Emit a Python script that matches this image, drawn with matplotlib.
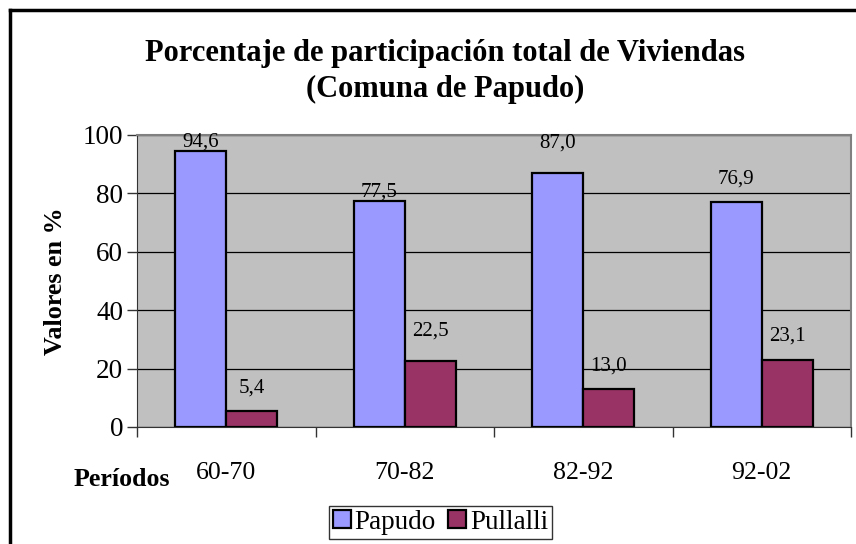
import matplotlib
matplotlib.use("Agg")
import matplotlib.pyplot as plt
import numpy as np
from matplotlib.lines import Line2D

categories = ["60-70", "70-82", "82-92", "92-02"]
papudo = [94.6, 77.5, 87.0, 76.9]
pullalli = [5.4, 22.5, 13.0, 23.1]
papudo_labels = ["94,6", "77,5", "87,0", "76,9"]
pullalli_labels = ["5,4", "22,5", "13,0", "23,1"]
# vertical label placement (data units) as in the original
papudo_label_y = [97.6, 80.5, 97.3, 85.0]
pullalli_label_y = [13.4, 33.0, 21.0, 31.0]

plt.rcParams['font.family'] = ['Liberation Serif', 'DejaVu Serif']

fig = plt.figure(figsize=(8.56, 5.44), dpi=100)
ax = fig.add_axes([137/856, 1-427/544, (851-137)/856, (427-135)/544])
ax.set_facecolor('#c0c0c0')

x = np.arange(len(categories))
w = 1/3.5
ax.bar(x - w/2, papudo, width=w, color='#9999ff', edgecolor='black', linewidth=1.6, label='Papudo', zorder=3)
ax.bar(x + w/2, pullalli, width=w, color='#993366', edgecolor='black', linewidth=1.6, label='Pullalli', zorder=3)

for i in range(len(categories)):
    ax.text(x[i] - w/2, papudo_label_y[i], papudo_labels[i], ha='center', va='center', fontsize=15, zorder=4)
    ax.text(x[i] + w/2, pullalli_label_y[i], pullalli_labels[i], ha='center', va='center', fontsize=15, zorder=4)

ax.set_xlim(-0.5, len(categories) - 0.5)
ax.set_ylim(0, 100)
ax.set_yticks([0, 20, 40, 60, 80, 100])
ax.yaxis.grid(True, color='black', linewidth=0.9, zorder=1)
ax.set_axisbelow(True)
ax.tick_params(axis='y', labelsize=19.5, direction='out', length=7, width=1, color='#333333', pad=3)

ax.set_xticks(np.arange(-0.5, len(categories)), minor=False)
ax.set_xticklabels([])
ax.set_xticks(x, minor=True)
ax.set_xticklabels(categories, minor=True)
ax.tick_params(axis='x', which='major', direction='out', length=7, width=1, color='#333333')
ax.tick_params(axis='x', which='minor', length=0, labelsize=18.6, pad=25)

for s in ['top', 'right']:
    ax.spines[s].set_color('#808080')
    ax.spines[s].set_linewidth(1.5)
ax.spines['left'].set_color('#333333')
ax.spines['bottom'].set_color('#333333')

ax.set_ylabel('Valores en %', fontsize=18.8, fontweight='bold')
ax.yaxis.set_label_coords(-0.098, 0.5)

fig.text(445/856, 1-53/544, 'Porcentaje de participación total de Viviendas', ha='center', va='center',
         fontsize=22, fontweight='bold')
fig.text(445/856, 1-89/544, '(Comuna de Papudo)', ha='center', va='center', fontsize=22, fontweight='bold')
fig.text(122/856, 1-480/544, 'Períodos', ha='center', va='center', fontsize=18.6, fontweight='bold')

leg = fig.legend(loc='lower left', bbox_to_anchor=(329/856, 1-539/544), ncol=2, fontsize=19.5,
                 frameon=True, fancybox=False, edgecolor='black', handlelength=0.65, handleheight=0.65,
                 handletextpad=0.15, columnspacing=0.45, borderpad=0.15, borderaxespad=0)
leg.get_frame().set_linewidth(1.0)

# outer chart border (top and left visible)
fig.add_artist(Line2D([10/856, 10/856], [0, 1-10/544], color='black', linewidth=2.5, transform=fig.transFigure))
fig.add_artist(Line2D([10/856, 1], [1-10/544, 1-10/544], color='black', linewidth=2.5, transform=fig.transFigure))

fig.savefig('out.png', dpi=100)
